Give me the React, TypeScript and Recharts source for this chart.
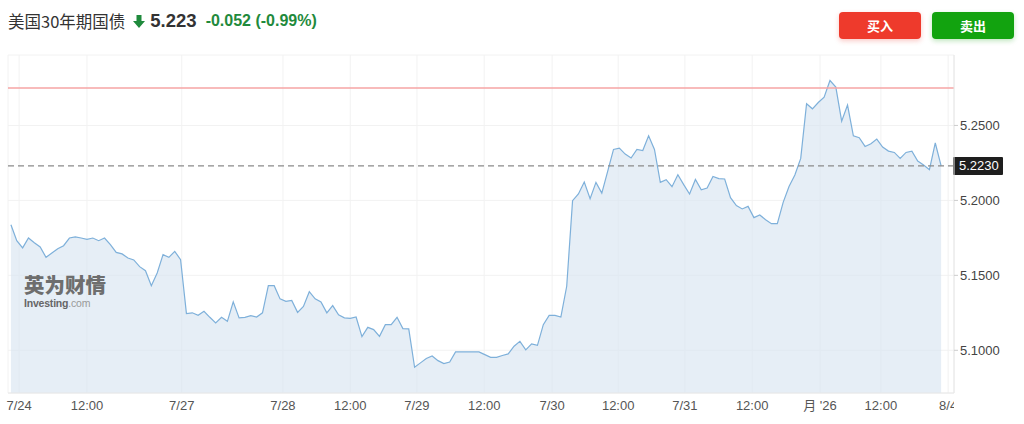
import * as React from 'react';
import { ComposedChart, Area, XAxis, YAxis, CartesianGrid, ReferenceLine } from 'recharts';

// hourly closes
const prices = [
    5.1838, 5.1731, 5.1683, 5.1749, 5.1718, 5.1689, 5.162, 5.1649, 5.1678, 5.1698,
    5.1749, 5.1756, 5.1749, 5.174, 5.1749, 5.1731, 5.1749, 5.1705, 5.1653, 5.1643,
    5.1616, 5.1603, 5.1558, 5.1531, 5.1431, 5.1516, 5.1638, 5.162, 5.166, 5.1605,
    5.1245, 5.125, 5.1233, 5.126, 5.122, 5.1183, 5.122, 5.1193, 5.1323, 5.1216,
    5.122, 5.1231, 5.1222, 5.125, 5.1431, 5.1431, 5.1343, 5.1327, 5.1333, 5.1253,
    5.1293, 5.1391, 5.1343, 5.1323, 5.125, 5.1298, 5.1236, 5.1216, 5.1213, 5.1222,
    5.1091, 5.1153, 5.1138, 5.1093, 5.1171, 5.1171, 5.122, 5.1145, 5.1143, 5.0887,
    5.0916, 5.0945, 5.0962, 5.0931, 5.0911, 5.0922, 5.0989, 5.0989, 5.0989, 5.0989,
    5.0989, 5.0971, 5.0953, 5.0953, 5.0965, 5.0976, 5.1027, 5.106, 5.1003, 5.1043,
    5.1033, 5.1171, 5.1233, 5.1233, 5.1222, 5.1427, 5.1998, 5.2043, 5.2123, 5.2011,
    5.212, 5.2049, 5.2193, 5.234, 5.2349, 5.2309, 5.2283, 5.234, 5.2333, 5.2431,
    5.234, 5.212, 5.2138, 5.2091, 5.2171, 5.2105, 5.2043, 5.214, 5.2071, 5.2082,
    5.216, 5.2145, 5.2143, 5.2018, 5.1965, 5.1943, 5.196, 5.1885, 5.1903, 5.1871,
    5.1845, 5.1845, 5.1987, 5.2093, 5.2169, 5.228, 5.2645, 5.2611, 5.2653, 5.2689,
    5.28, 5.2756, 5.2529, 5.2636, 5.2431, 5.2418, 5.236, 5.2378, 5.2409, 5.2356,
    5.2329, 5.232, 5.228, 5.232, 5.2329, 5.2263, 5.2236, 5.2205, 5.2383, 5.223
];

// x tick positions (in hours from first point) and their labels
const tickPos = [1.4, 13.0, 29.2, 46.5, 58.0, 69.4, 80.9, 92.5, 103.8, 115.2, 126.7, 138.3, 148.7, 160.2];
const tickLabels = ['7/24', '12:00', '7/27', '7/28', '12:00', '7/29', '12:00', '7/30', '12:00', '7/31', '12:00', "月 '26", '12:00', '8/4'];
const yTicks = [5.1, 5.15, 5.2, 5.25];

const prevClose = 5.275;
const lastPrice = 5.223;
const change = -0.052;
const changePct = -0.99;

const data = prices.map((v, i) => ({ i, v }));

const FONT = '"Liberation Sans", Arial, "Noto Sans CJK SC", sans-serif';

const XTick = (props: any) => {
    const { x, y, payload } = props;
    const idx = tickPos.indexOf(payload.value);
    const last = idx === tickPos.length - 1;
    return (
        <g>
            {last && <defs><clipPath id="xlastclip"><rect x={0} y={0} width={954} height={424} /></clipPath></defs>}
            <text x={x} y={y} dy="0.71em" textAnchor="middle" fill="#555" fontSize={13} fontFamily={FONT}
                clipPath={last ? 'url(#xlastclip)' : undefined}>
                {tickLabels[idx]}
            </text>
        </g>
    );
}

const PriceTag = (props: any) => {
    const { viewBox } = props;
    const x = viewBox.x + viewBox.width;
    const y = viewBox.y;
    return (
        <g>
            <rect x={x - 1} y={y - 9} width={50} height={18} fill="#1e1e1e" rx={1} />
            <text x={x + 5} y={y} dy="0.35em" fill="#fff" fontSize={13} fontFamily={FONT}>{lastPrice.toFixed(4)}</text>
        </g>
    );
}

const btn = (bg: string): React.CSSProperties => ({
    position: 'absolute', top: 12, width: 82, height: 27, background: bg, color: '#fff',
    borderRadius: 4, fontSize: 13, fontWeight: 'bold', textAlign: 'center', lineHeight: '27px',
    fontFamily: '"Noto Sans CJK SC", sans-serif', boxShadow: `0 2px 5px ${bg}44`
});

export default function App() {
    return (
        <div style={{ position: 'absolute', left: 0, top: 0, width: 1024, height: 424, background: '#fff', overflow: 'hidden' }}>
            <ComposedChart width={1024} height={424} data={data} margin={{ top: 55, right: 0, bottom: 0, left: 8 }}>
                <CartesianGrid stroke="#f2f2f2" />
                <XAxis dataKey="i" type="number" domain={[-0.5, 161.2]} ticks={tickPos} interval={0}
                    allowDataOverflow height={31} tickLine={false} tickSize={6} tickMargin={2}
                    axisLine={{ stroke: '#e8e8e8' }} tick={<XTick />} />
                <YAxis orientation="right" domain={[5.0715, 5.297]} ticks={yTicks} allowDataOverflow width={70}
                    tickSize={4} tickMargin={2} tickLine={{ stroke: '#ccc' }} axisLine={{ stroke: '#e6e6e6' }}
                    tickFormatter={(v: number) => v.toFixed(4)}
                    tick={{ fill: '#444', fontSize: 13, fontFamily: FONT }} />
                <Area type="linear" dataKey="v" stroke="#7eb0da" strokeWidth={1.2} fill="#d6e3f0" fillOpacity={0.62}
                    isAnimationActive={false} dot={false} activeDot={false} />
                <ReferenceLine y={prevClose} stroke="#f6a4a4" strokeWidth={1.5} />
                <ReferenceLine y={lastPrice} stroke="#8a8a8a" strokeWidth={1.3} strokeDasharray="6 4" label={<PriceTag />} />
            </ComposedChart>

            <div style={{ position: 'absolute', left: 8, top: 8, height: 26, display: 'flex', alignItems: 'center', whiteSpace: 'nowrap' }}>
                <span style={{ fontSize: 16.5, color: '#333', fontFamily: '"Noto Sans CJK SC", sans-serif' }}>美国30年期国债</span>
                <svg width={12} height={13} style={{ marginLeft: 8, marginRight: 5 }}>
                    <path d="M3.5 0 H8.5 V6 H12 L6 13 L0 6 H3.5 Z" fill="#1f8a3c" />
                </svg>
                <span style={{ fontSize: 18.5, fontWeight: 'bold', color: '#333', fontFamily: FONT }}>{lastPrice.toFixed(3)}</span>
                <span style={{ fontSize: 16, fontWeight: 'bold', color: '#1f8a3c', fontFamily: FONT, marginLeft: 9 }}>
                    {change.toFixed(3)} ({changePct.toFixed(2)}%)
                </span>
            </div>

            <div style={{ ...btn('#ee3a2c'), left: 839 }}>买入</div>
            <div style={{ ...btn('#12a30f'), left: 932 }}>卖出</div>

            <div style={{ position: 'absolute', left: 24, top: 274, color: '#6e6e6e', fontFamily: '"Noto Sans CJK SC", sans-serif',
                fontWeight: 900, fontSize: 20.5, lineHeight: '21px', height: 21 }}>
                英为财情
            </div>
            <div style={{ position: 'absolute', left: 24, top: 298, fontFamily: FONT, fontSize: 10.5, lineHeight: '10px', letterSpacing: -0.2 }}>
                <span style={{ color: '#666', fontWeight: 'bold' }}>Investing</span><span style={{ color: '#999' }}>.com</span>
            </div>
        </div>
    );
}
